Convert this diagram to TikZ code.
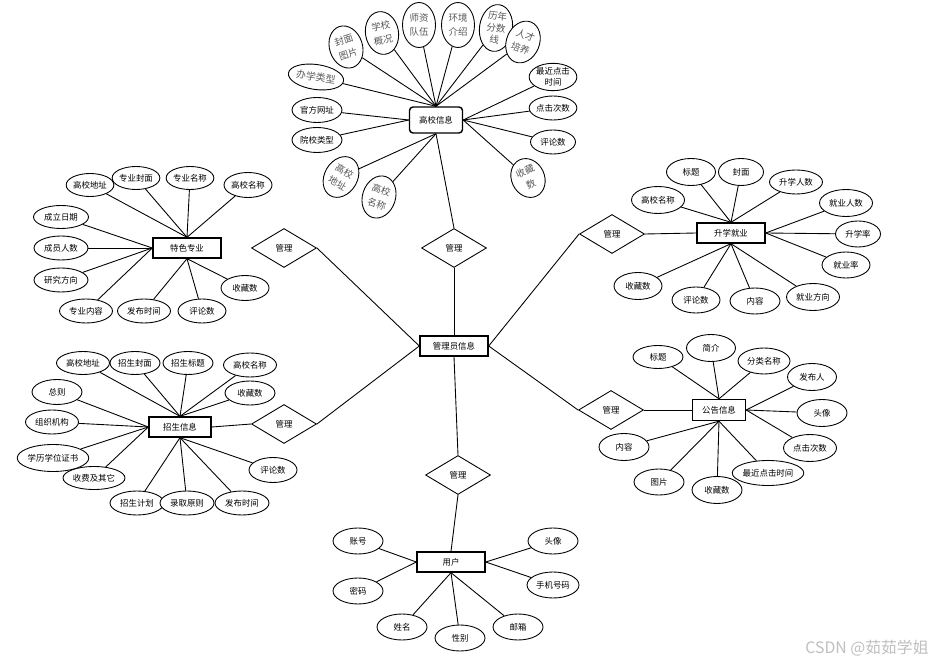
\documentclass[tikz,border=0pt]{standalone}
\usepackage{fontspec}
\setmainfont{Noto Sans CJK SC}
\usetikzlibrary{shapes.geometric}
\tikzset{
  ent/.style={draw,line width=0.8pt,fill=white,minimum width=1.36cm,minimum height=0.4cm,inner sep=0pt,font=\fontsize{4.8}{5.8}\selectfont},
  attr/.style={draw,ellipse,fill=white,minimum width=1cm,minimum height=0.5cm,inner sep=0pt,font=\fontsize{4.8}{6.6}\selectfont},
  tall/.style={attr,minimum width=0.66cm,minimum height=0.86cm,align=center,text=black!65,font=\fontsize{5.4}{8}\selectfont},
  rel/.style={draw,diamond,fill=white,minimum width=1.3cm,minimum height=0.78cm,inner sep=0pt,font=\fontsize{4.8}{5.8}\selectfont},
}
\begin{document}
\begin{tikzpicture}[x=0.02cm,y=-0.02cm,line width=0.5pt]
    \useasboundingbox (0,0) rectangle (940,665);
    \node[ent] (gl) at (454,346) {管理员信息};
    \node[rel] (r0) at (454,248) {管理};
    \node[rel] (r1) at (284,248) {管理};
    \node[rel] (r2) at (284,424) {管理};
    \node[rel] (r3) at (458,475) {管理};
    \node[rel] (r4) at (612,234) {管理};
    \node[rel] (r5) at (611,410) {管理};
    \node[ent,rounded corners=2pt,minimum width=1.06cm,minimum height=0.52cm] (gx) at (436,120) {高校信息};
    \node[ent] (ts) at (187,248) {特色专业};
    \node[ent,minimum width=1.24cm] (zs) at (180,427) {招生信息};
    \node[ent] (sx) at (731,233) {升学就业};
    \node[ent,minimum width=1.06cm,minimum height=0.42cm] (gg) at (719,410) {公告信息};
    \node[ent] (yh) at (451,562) {用户};
    \node[tall,rotate=18] (xa) at (346,47) {封面\\图片};
    \node[tall,rotate=10] (xb) at (382,33) {学校\\概况};
    \node[tall,minimum height=0.9cm] (xc) at (419,25) {师资\\队伍};
    \node[tall,minimum height=0.9cm] (xd) at (458,25) {环境\\介绍};
    \node[tall,rotate=-8,minimum height=0.94cm,font=\fontsize{5.4}{6.8}\selectfont] (xe) at (496,28) {历年\\分数\\线};
    \node[tall,rotate=-22] (xf) at (523,42) {人才\\培养};
    \node[attr,rotate=-8,text=black!65,font=\fontsize{5.6}{6.6}\selectfont] (xg) at (316,77) {办学类型};
    \node[attr] (xh) at (317,110) {官方网址};
    \node[attr] (xi) at (317,140) {院校类型};
    \node[tall,rotate=-30] (xj) at (341,177) {高校\\地址};
    \node[tall,rotate=-18] (xk) at (379,197) {高校\\名称};
    \node[attr,minimum width=0.9cm,minimum height=0.46cm,align=center] (xl) at (553,77) {最近点击\\时间};
    \node[attr,minimum width=0.9cm,minimum height=0.48cm] (xm) at (553,108) {点击次数};
    \node[attr,minimum width=0.9cm,minimum height=0.48cm] (xn) at (553,142) {评论数};
    \node[tall,rotate=25,minimum height=0.8cm] (xo) at (528,178) {收藏\\数};
    \node[attr,minimum width=0.94cm,minimum height=0.46cm] (ta) at (90,185) {高校地址};
    \node[attr,minimum width=0.9cm,minimum height=0.46cm] (tb) at (136,178) {专业封面};
    \node[attr,minimum width=0.9cm,minimum height=0.46cm] (tc) at (190,178) {专业名称};
    \node[attr,minimum width=0.96cm] (td) at (248,185) {高校名称};
    \node[attr,minimum width=1.1cm,minimum height=0.46cm] (te) at (61,217) {成立日期};
    \node[attr,minimum width=1.08cm,minimum height=0.48cm] (tf) at (61,248) {成员人数};
    \node[attr,minimum width=1.08cm,minimum height=0.48cm] (tg) at (61,280) {研究方向};
    \node[attr,minimum width=1.06cm,minimum height=0.48cm] (th) at (86,311) {专业内容};
    \node[attr,minimum width=1.06cm,minimum height=0.48cm] (ti) at (144,311) {发布时间};
    \node[attr,minimum width=0.96cm,minimum height=0.48cm] (tj) at (202,311) {评论数};
    \node[attr,minimum width=0.96cm] (tk) at (245,288) {收藏数};
    \node[attr,minimum width=1.06cm,minimum height=0.46cm] (za) at (83,363) {高校地址};
    \node[attr,minimum height=0.46cm] (zb) at (135,363) {招生封面};
    \node[attr,minimum height=0.46cm] (zc) at (188,363) {招生标题};
    \node[attr,minimum width=1.06cm,minimum height=0.48cm] (zd) at (250,365) {高校名称};
    \node[attr,minimum height=0.48cm] (ze) at (250,393) {收藏数};
    \node[attr] (zf) at (57,392) {总则};
    \node[attr,minimum width=1.06cm,minimum height=0.48cm] (zg) at (52,422) {组织机构};
    \node[attr,minimum width=1.32cm,minimum height=0.54cm] (zh) at (53,458) {学历学位证书};
    \node[attr,minimum width=1.24cm,minimum height=0.46cm] (zi) at (94,478) {收费及其它};
    \node[attr,minimum width=1.08cm,minimum height=0.48cm] (zj) at (137,503) {招生计划};
    \node[attr,minimum width=1.08cm,minimum height=0.48cm] (zk) at (187,503) {录取原则};
    \node[attr,minimum width=1.08cm,minimum height=0.48cm] (zl) at (242,503) {发布时间};
    \node[attr,minimum width=0.96cm] (zm) at (273,470) {评论数};
    \node[attr,minimum width=0.98cm,minimum height=0.54cm] (sa) at (691,172) {标题};
    \node[attr,minimum width=0.9cm,minimum height=0.54cm] (sb) at (741,172) {封面};
    \node[attr,minimum width=1.06cm,minimum height=0.48cm] (sc) at (796,182) {升学人数};
    \node[attr,minimum width=1.06cm,minimum height=0.54cm] (sd) at (658,200) {高校名称};
    \node[attr,minimum width=1.06cm,minimum height=0.54cm] (se) at (846,203) {就业人数};
    \node[attr,minimum width=0.9cm,minimum height=0.52cm] (sf) at (858,234) {升学率};
    \node[attr,minimum width=0.96cm,minimum height=0.52cm] (sg) at (846,265) {就业率};
    \node[attr,minimum width=1.06cm,minimum height=0.54cm] (sh) at (813,297) {就业方向};
    \node[attr,minimum height=0.52cm] (si) at (755,301) {内容};
    \node[attr,minimum width=0.96cm,minimum height=0.52cm] (sj) at (696,300) {评论数};
    \node[attr,minimum width=0.96cm,minimum height=0.54cm] (sk) at (638,286) {收藏数};
    \node[attr,minimum height=0.46cm] (na) at (658,357) {标题};
    \node[attr,minimum width=0.98cm,minimum height=0.54cm] (nb) at (711,348) {简介};
    \node[attr,minimum width=1.04cm,minimum height=0.52cm] (nc) at (764,361) {分类名称};
    \node[attr,minimum width=0.98cm,minimum height=0.54cm] (nd) at (812,377) {发布人};
    \node[attr,minimum height=0.54cm] (ne) at (822,413) {头像};
    \node[attr,minimum width=1.06cm,minimum height=0.54cm] (nf) at (810,448) {点击次数};
    \node[attr,minimum width=1.4cm] (ng) at (768,473) {最近点击时间};
    \node[attr,minimum height=0.54cm] (nh) at (717,490) {收藏数};
    \node[attr,minimum height=0.52cm] (ni) at (659,482) {图片};
    \node[attr,minimum height=0.54cm] (nj) at (624,447) {内容};
    \node[attr,minimum height=0.52cm] (ya) at (358,541) {账号};
    \node[attr,minimum height=0.52cm] (yb) at (358,591) {密码};
    \node[attr,minimum height=0.52cm] (yc) at (402,627) {姓名};
    \node[attr,minimum height=0.52cm] (yd) at (460,638) {性别};
    \node[attr,minimum height=0.52cm] (ye) at (518,627) {邮箱};
    \node[attr,minimum width=1.04cm,minimum height=0.52cm] (yf) at (553,585) {手机号码};
    \node[attr,minimum height=0.52cm] (yg) at (553,541) {头像};
    \node[text=black!25,font=\fontsize{9}{10}\selectfont] (wm) at (867,648) {CSDN @茹茹学姐};
    \foreach \u/\v in {r1.east/gl.west,r2.east/gl.west,r0.south/gl.north,r3.north/gl.south,gl.east/r4.west,gl.east/r5.west,
      gx.south/r0.north,r2.west/zs.east,r3.south/yh.north,r4.east/sx.west,r5.east/gg.west} { \draw (\u) -- (\v); }
    \foreach \u/\v in {gx.north/xa,gx.north/xb,gx.north/xc,gx.north/xd,gx.north/xe,gx.north/xf,gx.north/xg,gx.west/xh,gx.west/xi,
      gx.south/xj,gx.south/xk,gx.east/xl,gx.east/xm,gx.east/xn,gx.east/xo} { \draw (\u) -- (\v); }
    \foreach \u/\v in {ts.north/ta,ts.north/tb,ts.north/tc,ts.north/td,ts.west/te,ts.west/tf,ts.west/tg,ts.west/th,
      ts.south/ti,ts.south/tj,ts.south/tk} { \draw (\u) -- (\v); }
    \foreach \u/\v in {zs.north/za,zs.north/zb,zs.north/zc,zs.north/zd,zs.north/ze,zs.west/zf,zs.west/zg,zs.west/zh,zs.west/zi,
      zs.south/zj,zs.south/zk,zs.south/zl,zs.south/zm} { \draw (\u) -- (\v); }
    \foreach \u/\v in {sx.north/sa,sx.north/sb,sx.north/sc,sx.north/sd,sx.east/se,sx.east/sf,sx.east/sg,
      sx.south/sh,sx.south/si,sx.south/sj,sx.south/sk} { \draw (\u) -- (\v); }
    \foreach \u/\v in {gg.north/na,gg.north/nb,gg.north/nc,gg.east/nd,gg.east/ne,gg.east/nf,
      gg.south/ng,gg.south/nh,gg.south/ni,gg.south/nj} { \draw (\u) -- (\v); }
    \foreach \u/\v in {yh.west/ya,yh.west/yb,yh.south/yc,yh.south/yd,yh.south/ye,yh.east/yf,yh.east/yg} { \draw (\u) -- (\v); }
  \end{tikzpicture}
\end{document}
